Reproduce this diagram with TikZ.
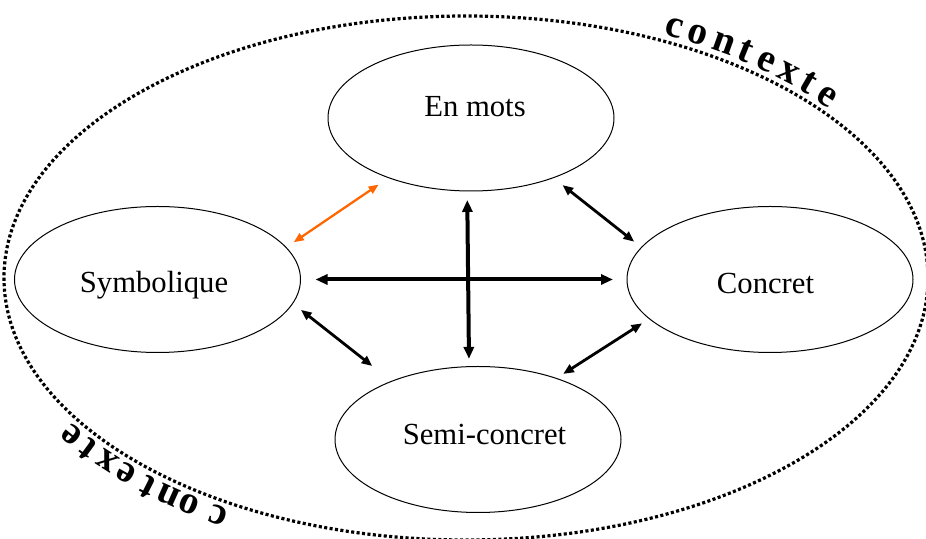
\documentclass[tikz,border=0pt]{standalone}
\usepackage{fontspec}
\setmainfont{Liberation Serif}
\usetikzlibrary{arrows.meta,shapes.geometric,calc}
\definecolor{arrorange}{RGB}{255,102,0}
\begin{document}
\begin{tikzpicture}[x=0.75pt,y=0.75pt,
  bubble/.style={draw, ellipse, line width=0.75pt, minimum width=214.5pt, minimum height=109.5pt, inner sep=0pt, outer sep=0pt},
  lbl/.style={anchor=base, inner sep=0pt, font=\fontsize{23}{27}\selectfont},
  ctx/.style={anchor=center, inner sep=0pt, text height=14pt, text depth=0pt, font=\fontsize{29.5}{33}\selectfont\bfseries},
  dotline/.style={line width=2.4pt, dash pattern=on 2.3pt off 1.8pt},
  bigarrow/.style={{Triangle[length=9pt,width=7.5pt]}-{Triangle[length=9pt,width=7.5pt]}, line width=3pt},
  diagarrow/.style={{Triangle[length=8pt,width=6.5pt]}-{Triangle[length=8pt,width=6.5pt]}, line width=2.1pt},
  orgarrow/.style={{Triangle[length=7.5pt,width=6pt]}-{Triangle[length=7.5pt,width=6pt]}, line width=1.7pt, draw=arrorange, fill=arrorange}
]
\useasboundingbox (0,0) rectangle (926,539);
% outer context ellipse
\draw[dotline] (466,261) ellipse [x radius=462, y radius=262];
% bubbles
\node[bubble] (enm)  at (471,421)   {};
\node[bubble] (sym)  at (157.5,259.5) {};
\node[bubble] (conc) at (770,259.5) {};
\node[bubble] (semi) at (478,99.5)  {};
% labels
\node[lbl] (tenm)  at (475,422)   {En mots};
\node[lbl] (tsym)  at (154,246)   {Symbolique};
\node[lbl] (tconc) at (765.5,245) {Concret};
\node[lbl] (tsemi) at (484.5,94)  {Semi-concret};
% context letters
\foreach \ch/\t [count=\i] in {c/64.2,o/61.0,n/57.4,t/54.3,e/51.0,x/47.6,t/44.3,e/40.9,
                               c/238.8,o/234.6,n/231.6,t/228.3,e/224.7,x/221.3,t/217.8,e/214.4}{
  \pgfmathsetmacro\rot{atan2(-262*cos(\t),462*sin(\t))}
  \node[ctx,rotate=\rot] (ctx\i) at ($(466,261)+({478*cos(\t)},{278*sin(\t)})$) {\ch};
}
% arrows
\draw[bigarrow, shorten <=6.75pt, shorten >=5.8pt] (enm.267.6) -- (semi.97.8);
\draw[bigarrow, shorten <=11.25pt, shorten >=10.5pt] (sym.east) -- (conc.west);
\draw[orgarrow, shorten <=7pt, shorten >=9.2pt] (sym.14.2) -- (enm.216.8);
\draw[diagarrow, shorten <=8.9pt, shorten >=7pt] (enm.324.2) -- (conc.166.2);
\draw[diagarrow, shorten <=7.9pt, shorten >=18.5pt] (sym.350.4) -- (semi.146.2);
\draw[diagarrow, shorten <=6.5pt, shorten >=6.2pt] (conc.198.4) -- (semi.38.1);
\end{tikzpicture}
\end{document}
